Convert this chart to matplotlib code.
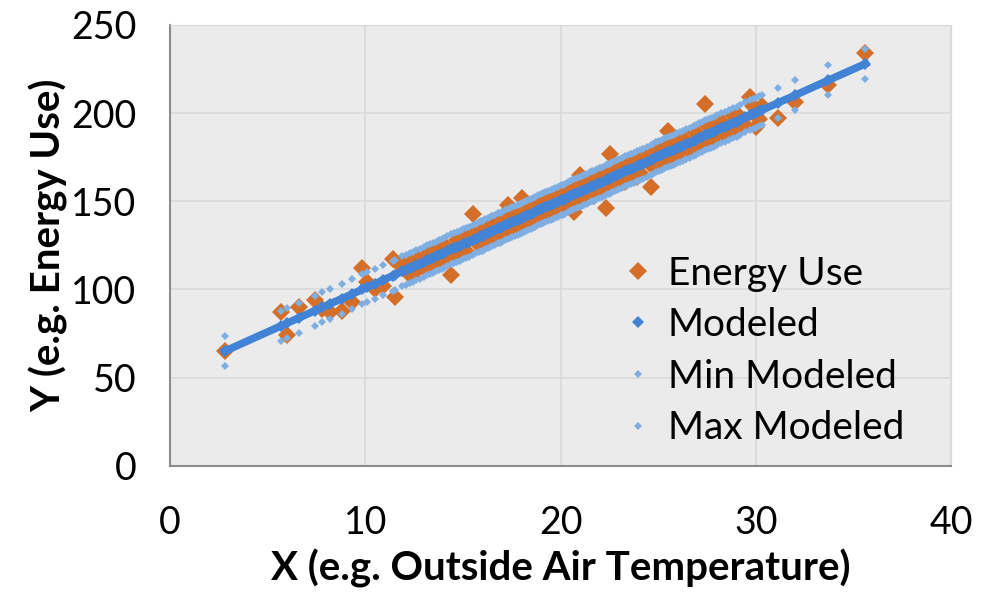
import matplotlib
matplotlib.use("Agg")
import matplotlib.pyplot as plt

# Data (approximate)
# outlying / sparse points
temp = [2.8, 5.7, 6.0, 6.6, 7.4, 7.8, 8.2, 8.8, 9.3, 9.85,
        10.1, 10.5, 10.9, 11.4, 11.5, 11.9, 12.3, 12.6, 13.0, 13.3,
        13.6, 13.9, 14.2, 14.4, 14.7, 15.0, 15.3, 15.5, 15.8, 16.0,
        16.3, 16.5, 16.8, 17.0, 17.3, 17.5, 17.8, 18.0, 18.2, 18.5,
        18.7, 19.0, 19.2, 19.5, 19.7, 20.0, 20.2, 20.5, 20.7, 21.0,
        21.2, 21.5, 21.7, 22.0, 22.3, 22.5, 22.8, 23.0, 23.3, 23.6,
        23.9, 24.2, 24.6, 24.9, 25.2, 25.5, 25.8, 26.1, 26.4, 26.8,
        27.1, 27.4, 27.7, 28.0, 28.4, 28.8, 29.2, 29.7, 30.0, 30.3,
        31.1, 32.0, 33.7, 35.6]

energy_use = [65.0, 87.0, 74.0, 90.0, 94.0, 89.0, 87.0, 88.0, 93.0, 112.0,
              104.0, 100.0, 102.0, 117.0, 96.0, 113.0, 108.0, 119.0, 112.0, 121.0,
              114.0, 123.0, 118.0, 108.0, 128.0, 121.0, 131.0, 143.0, 125.0, 136.0,
              128.0, 139.0, 130.0, 141.0, 148.0, 143.0, 136.0, 152.0, 137.0, 147.0,
              139.0, 150.0, 142.0, 153.0, 145.0, 155.0, 147.0, 158.0, 144.0, 165.0,
              152.0, 163.0, 153.0, 166.0, 146.0, 177.0, 159.0, 170.0, 161.0, 174.0,
              164.0, 177.0, 158.0, 181.0, 171.0, 190.0, 175.0, 186.0, 177.0, 190.0,
              181.0, 205.0, 184.0, 195.0, 187.0, 199.0, 191.0, 209.0, 192.0, 204.0,
              197.0, 206.0, 216.0, 234.0]

modeled = [65.0, 79.4, 80.9, 83.9, 87.9, 89.9, 91.9, 94.8, 97.3, 100.1,
           101.3, 103.3, 105.3, 107.8, 108.3, 110.2, 112.2, 113.7, 115.7, 117.2,
           118.7, 120.2, 121.7, 122.7, 124.2, 125.7, 127.1, 128.1, 129.6, 130.6,
           132.1, 133.1, 134.6, 135.6, 137.1, 138.1, 139.6, 140.6, 141.6, 143.0,
           144.0, 145.5, 146.5, 148.0, 149.0, 150.5, 151.5, 153.0, 154.0, 155.5,
           156.5, 158.0, 158.9, 160.4, 161.9, 162.9, 164.4, 165.4, 166.9, 168.4,
           169.9, 171.4, 173.4, 174.9, 176.3, 177.8, 179.3, 180.8, 182.3, 184.3,
           185.8, 187.3, 188.8, 190.3, 192.2, 194.2, 196.2, 198.7, 200.2, 201.7,
           205.7, 210.1, 218.6, 228.0]

min_modeled = [56.5, 71.0, 72.4, 75.4, 79.4, 81.4, 83.4, 86.3, 88.8, 91.6,
               92.8, 94.8, 96.8, 99.3, 99.8, 101.7, 103.7, 105.2, 107.2, 108.7,
               110.2, 111.7, 113.2, 114.2, 115.7, 117.2, 118.6, 119.6, 121.1, 122.1,
               123.6, 124.6, 126.1, 127.1, 128.6, 129.6, 131.1, 132.1, 133.1, 134.5,
               135.5, 137.0, 138.0, 139.5, 140.5, 142.0, 143.0, 144.5, 145.5, 147.0,
               148.0, 149.5, 150.4, 151.9, 153.4, 154.4, 155.9, 156.9, 158.4, 159.9,
               161.4, 162.9, 164.9, 166.4, 167.8, 169.3, 170.8, 172.3, 173.8, 175.8,
               177.3, 178.8, 180.3, 181.8, 183.7, 185.7, 187.7, 190.2, 191.7, 193.2,
               197.2, 201.6, 210.1, 219.5]

max_modeled = [73.5, 87.8, 89.4, 92.4, 96.4, 98.4, 100.4, 103.3, 105.8, 108.6,
               109.8, 111.8, 113.8, 116.3, 116.8, 118.7, 120.7, 122.2, 124.2, 125.7,
               127.2, 128.7, 130.2, 131.2, 132.7, 134.2, 135.6, 136.6, 138.1, 139.1,
               140.6, 141.6, 143.1, 144.1, 145.6, 146.6, 148.1, 149.1, 150.1, 151.5,
               152.5, 154.0, 155.0, 156.5, 157.5, 159.0, 160.0, 161.5, 162.5, 164.0,
               165.0, 166.5, 167.4, 168.9, 170.4, 171.4, 172.9, 173.9, 175.4, 176.9,
               178.4, 179.9, 181.9, 183.4, 184.8, 186.3, 187.8, 189.3, 190.8, 192.8,
               194.3, 195.8, 197.3, 198.8, 200.7, 202.7, 204.7, 207.2, 208.7, 210.2,
               214.2, 218.6, 227.1, 236.5]

# points in the dense middle band
temp_dense = [12.1, 12.45, 12.8, 13.15, 13.45, 13.75, 14.05, 14.55, 14.85, 15.15,
              15.65, 15.9, 16.15, 16.4, 16.65, 16.9, 17.15, 17.4, 17.65, 17.9,
              18.1, 18.35, 18.6, 18.85, 19.1, 19.35, 19.6, 19.85, 20.1, 20.35,
              20.6, 20.85, 21.1, 21.35, 21.6, 21.85, 22.15, 22.4, 22.65, 22.9,
              23.15, 23.45, 23.75, 24.05, 24.4, 24.75, 25.05, 25.35, 25.65, 25.95,
              26.25, 26.6, 26.95, 27.25, 27.55, 27.85, 28.2, 28.6, 29.0, 29.45,
              29.85, 30.15]

energy_dense = [115.5, 108.8, 119.0, 112.0, 122.5, 115.0, 125.0, 119.0, 129.5, 122.0,
                133.0, 126.0, 136.0, 128.0, 138.5, 131.0, 141.0, 133.0, 143.5, 135.5,
                145.5, 138.0, 148.0, 140.0, 150.5, 143.0, 153.0, 145.0, 155.5, 148.0,
                158.0, 150.5, 160.5, 152.5, 163.0, 155.0, 165.5, 158.0, 168.0, 160.5,
                170.5, 163.0, 173.5, 166.0, 177.0, 169.5, 180.0, 172.5, 183.0, 175.5,
                186.0, 178.5, 189.5, 182.0, 192.5, 185.0, 195.5, 188.5, 199.5, 193.0,
                204.0, 196.5]

modeled_dense = [111.2, 113.0, 114.7, 116.5, 118.0, 119.4, 120.9, 123.4, 124.9, 126.4,
                 128.9, 130.1, 131.4, 132.6, 133.9, 135.1, 136.3, 137.6, 138.8, 140.1,
                 141.1, 142.3, 143.5, 144.8, 146.0, 147.3, 148.5, 149.8, 151.0, 152.2,
                 153.5, 154.7, 156.0, 157.2, 158.5, 159.7, 161.2, 162.4, 163.7, 164.9,
                 166.2, 167.6, 169.1, 170.6, 172.4, 174.1, 175.6, 177.1, 178.6, 180.1,
                 181.6, 183.3, 185.0, 186.5, 188.0, 189.5, 191.3, 193.2, 195.2, 197.5,
                 199.4, 200.9]

min_dense = [102.7, 104.5, 106.2, 108.0, 109.5, 110.9, 112.4, 114.9, 116.4, 117.9,
             120.4, 121.6, 122.9, 124.1, 125.4, 126.6, 127.8, 129.1, 130.3, 131.6,
             132.6, 133.8, 135.0, 136.3, 137.5, 138.8, 140.0, 141.3, 142.5, 143.7,
             145.0, 146.2, 147.5, 148.7, 150.0, 151.2, 152.7, 153.9, 155.2, 156.4,
             157.7, 159.1, 160.6, 162.1, 163.9, 165.6, 167.1, 168.6, 170.1, 171.6,
             173.1, 174.8, 176.5, 178.0, 179.5, 181.0, 182.8, 184.7, 186.7, 189.0,
             190.9, 192.4]

max_dense = [119.7, 121.5, 123.2, 125.0, 126.5, 127.9, 129.4, 131.9, 133.4, 134.9,
             137.4, 138.6, 139.9, 141.1, 142.4, 143.6, 144.8, 146.1, 147.3, 148.6,
             149.6, 150.8, 152.0, 153.3, 154.5, 155.8, 157.0, 158.3, 159.5, 160.7,
             162.0, 163.2, 164.5, 165.7, 167.0, 168.2, 169.7, 170.9, 172.2, 173.4,
             174.7, 176.1, 177.6, 179.1, 180.9, 182.6, 184.1, 185.6, 187.1, 188.6,
             190.1, 191.8, 193.5, 195.0, 196.5, 198.0, 199.8, 201.7, 203.7, 206.0,
             207.9, 209.4]

orange = '#D46E28'
blue = '#4283D6'
light_blue = '#7FAEE3'

plt.rcParams['font.family'] = ['Lato', 'DejaVu Sans']

all_t = temp + temp_dense
all_e = energy_use + energy_dense
all_m = modeled + modeled_dense
all_min = min_modeled + min_dense
all_max = max_modeled + max_dense
line_pts = sorted(zip(all_t, all_m))

fig = plt.figure(figsize=(9.88, 5.92), dpi=100)
ax = fig.add_axes([0.172, 0.213, 0.791, 0.745])
ax.set_facecolor('#EBEBEB')

ax.plot(all_t, all_e, 'D', color=orange, ms=9, mew=0, label='Energy Use', zorder=3)
ax.plot([p[0] for p in line_pts], [p[1] for p in line_pts], '-', color=blue, lw=5.5, zorder=4)
ax.plot(all_t, all_m, 'D', color=blue, ms=6, mew=0, label='Modeled', zorder=4)
ax.plot(all_t, all_min, 'D', color=light_blue, ms=4, mew=0, label='Min Modeled', zorder=5)
ax.plot(all_t, all_max, 'D', color=light_blue, ms=4, mew=0, label='Max Modeled', zorder=5)

ax.set_xlim(0, 40)
ax.set_ylim(0, 250)
ax.set_xticks([0, 10, 20, 30, 40])
ax.set_yticks([0, 50, 100, 150, 200, 250])
ax.grid(True, color='#D9D9D9', lw=1.2)
ax.set_axisbelow(True)
ax.tick_params(length=0, labelsize=27)
ax.tick_params(axis='x', pad=28)
ax.tick_params(axis='y', pad=24)

for side in ['top', 'right']:
    ax.spines[side].set_color('#D9D9D9')
for side in ['left', 'bottom']:
    ax.spines[side].set_color('#8C8C8C')
    ax.spines[side].set_linewidth(1.5)

ax.set_xlabel('X (e.g. Outside Air Temperature)', fontsize=29, fontweight='bold', labelpad=6)
ax.set_ylabel('Y (e.g. Energy Use)', fontsize=29, fontweight='bold', labelpad=2)

ax.legend(loc='upper left', bbox_to_anchor=(0.577, 0.477), frameon=False,
          fontsize=28, handletextpad=0.3, labelspacing=0.4, handlelength=0.9,
          borderaxespad=0, borderpad=0)

fig.savefig('out.png', dpi=100, facecolor='white')
